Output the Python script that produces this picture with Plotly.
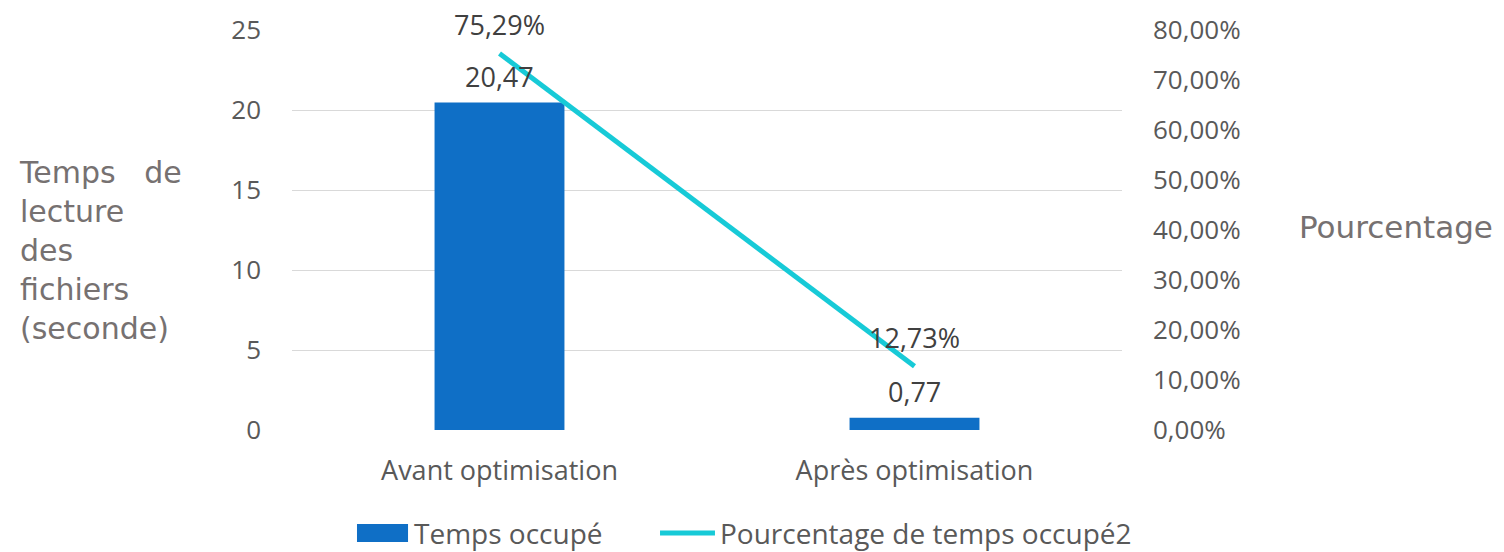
import plotly.graph_objects as go

# Data
categories = ["Avant optimisation", "Après optimisation"]
temps_occupe = [20.47, 0.77]                 # seconds
pourcentage_occupe = [0.7529, 0.1273]        # share of time
left_ticks = [0, 5, 10, 15, 20, 25]
right_ticks = [0, 0.1, 0.2, 0.3, 0.4, 0.5, 0.6, 0.7, 0.8]

BAR_COLOR = "#0F6FC6"
LINE_COLOR = "#17CAD7"
TICK_COLOR = "#595959"
TITLE_COLOR = "#767171"
LABEL_COLOR = "#404040"
FONT = "Open Sans"


def fr_num(v, digits=2):
    return f"{v:.{digits}f}".replace(".", ",")


fig = go.Figure()

fig.add_trace(go.Bar(
    x=categories, y=temps_occupe, name="Temps occupé",
    marker=dict(color=BAR_COLOR, line=dict(width=0)),
    yaxis="y", showlegend=False, hoverinfo="skip",
))

fig.add_trace(go.Scatter(
    x=categories, y=pourcentage_occupe, name="Pourcentage de temps occupé2",
    mode="lines", line=dict(color=LINE_COLOR, width=5),
    yaxis="y2", showlegend=False, hoverinfo="skip",
))

annotations = []
label_font = dict(family=FONT, size=27, color=LABEL_COLOR)
# value labels above bars
for c, v in zip(categories, temps_occupe):
    annotations.append(dict(
        x=c, y=v, xref="x", yref="y", text=fr_num(v), showarrow=False,
        yanchor="middle", yshift=26, font=label_font,
    ))
# value labels above line points
for c, v in zip(categories, pourcentage_occupe):
    annotations.append(dict(
        x=c, y=v, xref="x", yref="y2", text=fr_num(v * 100) + "%", showarrow=False,
        yanchor="middle", yshift=29, font=label_font,
    ))

# axis titles
annotations.append(dict(
    x=-0.331, y=0.45, xref="paper", yref="paper", xanchor="left", yanchor="middle",
    align="left", showarrow=False,
    text="Temps&nbsp;&nbsp; de<br>lecture<br>des<br>fichiers<br>(seconde)",
    font=dict(family="DejaVu Sans", size=30, color=TITLE_COLOR),
))
annotations.append(dict(
    x=1.2105, y=0.5075, xref="paper", yref="paper", xanchor="left", yanchor="middle",
    showarrow=False, text="Pourcentage",
    font=dict(family="DejaVu Sans", size=31, color=TITLE_COLOR),
))

# legend entries
legend_font = dict(family=FONT, size=28, color=TICK_COLOR)
annotations.append(dict(
    x=0.1446, y=-0.2575, xref="paper", yref="paper", xanchor="left", yanchor="middle",
    showarrow=False, text="Temps occupé", font=legend_font,
))
annotations.append(dict(
    x=0.5133, y=-0.2575, xref="paper", yref="paper", xanchor="left", yanchor="middle",
    showarrow=False, text="Pourcentage de temps occupé2", font=legend_font,
))

shapes = [
    dict(type="rect", xref="paper", yref="paper", x0=0.0783, x1=0.1398, y0=-0.28, y1=-0.235,
         fillcolor=BAR_COLOR, line=dict(width=0)),
    dict(type="line", xref="paper", yref="paper", x0=0.4434, x1=0.5096, y0=-0.2575, y1=-0.2575,
         line=dict(color=LINE_COLOR, width=5)),
]

fig.update_layout(
    width=1504, height=552,
    margin=dict(l=292, r=382, t=30, b=122),
    paper_bgcolor="white", plot_bgcolor="white",
    separators=", ",
    bargap=0.687,
    showlegend=False,
    font=dict(family=FONT, color=TICK_COLOR),
    xaxis=dict(
        showgrid=False, showline=False, zeroline=False, ticks="",
        tickfont=dict(family=FONT, size=27, color=TICK_COLOR),
        ticklabelstandoff=22,
    ),
    yaxis=dict(
        range=[0, 25], tickvals=left_ticks, showgrid=True, gridcolor="#D9D9D9", gridwidth=1,
        zeroline=False, showline=False, ticks="",
        tickfont=dict(family=FONT, size=26, color=TICK_COLOR),
        ticklabelstandoff=30,
    ),
    yaxis2=dict(
        range=[0, 0.8], tickvals=right_ticks, tickformat=".2%", overlaying="y", side="right",
        showgrid=False, zeroline=False, showline=False, ticks="",
        tickfont=dict(family=FONT, size=26, color=TICK_COLOR),
        ticklabelstandoff=30,
    ),
    annotations=annotations,
    shapes=shapes,
)

fig.write_html("out.html")
